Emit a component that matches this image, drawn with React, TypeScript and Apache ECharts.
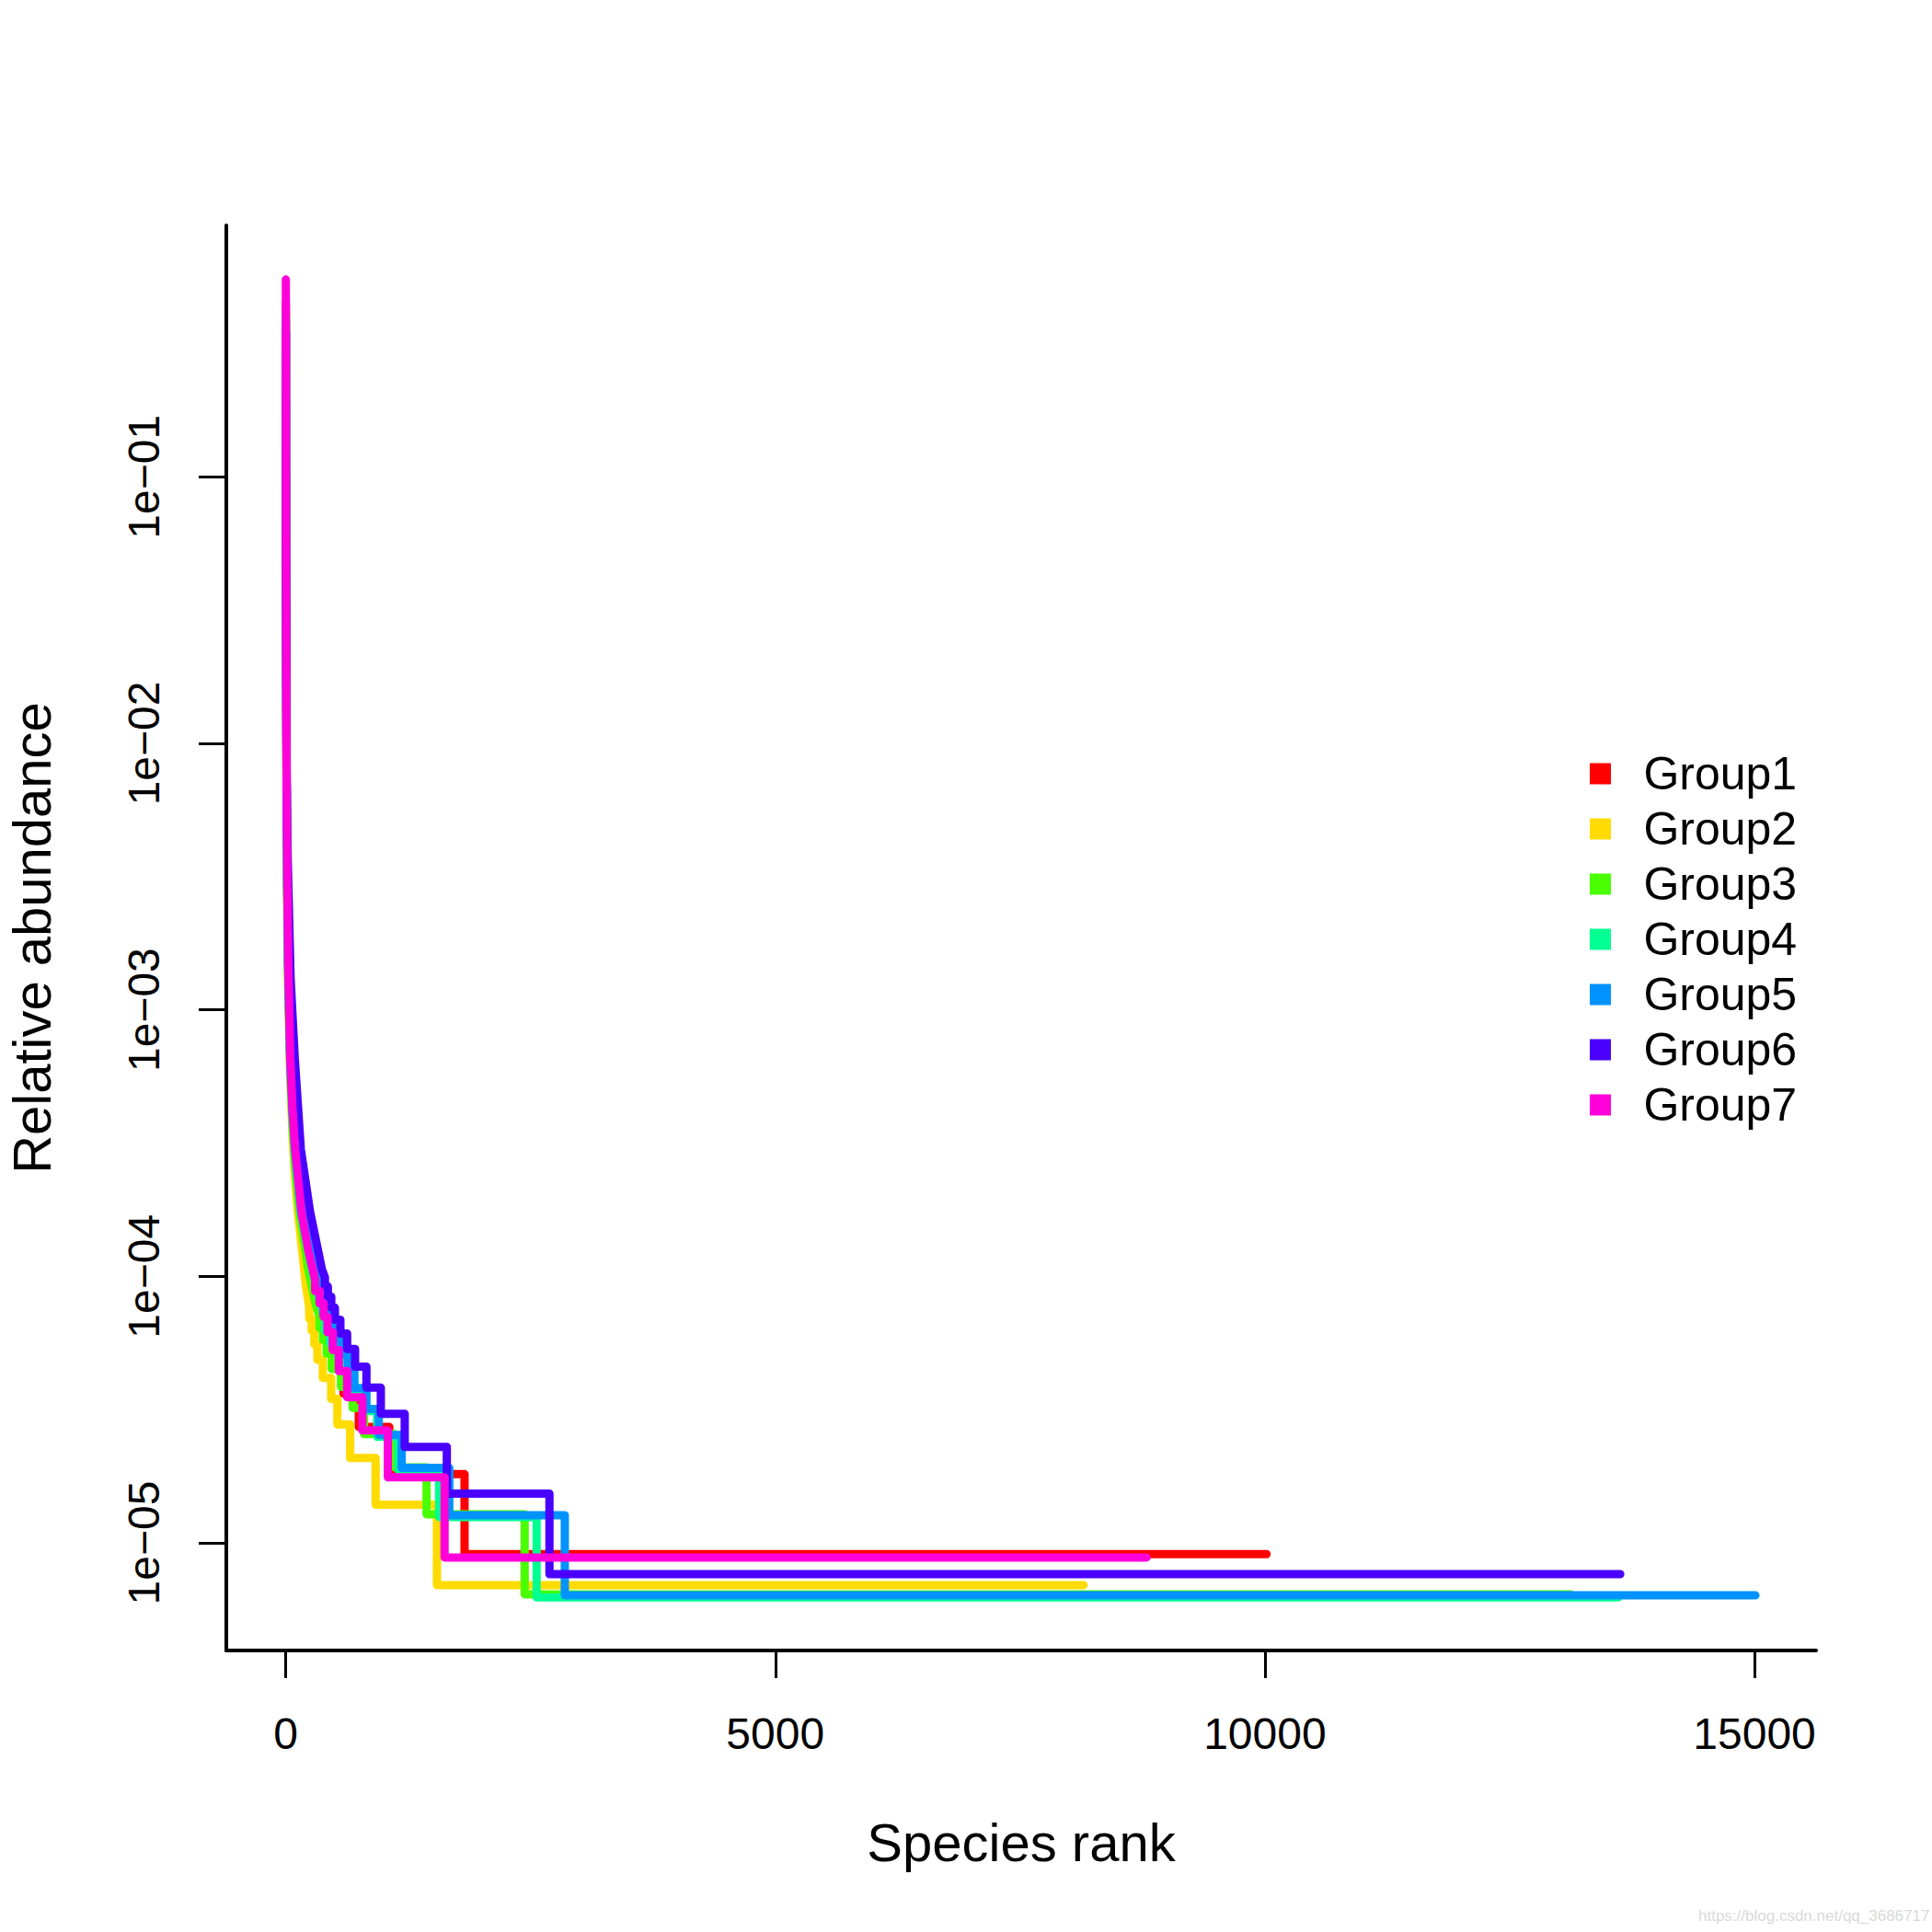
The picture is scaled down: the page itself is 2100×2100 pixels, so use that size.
import React, { useEffect, useRef } from "react";
import * as echarts from "echarts";

// ---------- data ----------
const groupNames = ["Group1", "Group2", "Group3", "Group4", "Group5", "Group6", "Group7"];
const groupColors = ["#FF0000", "#FFDB00", "#49FF00", "#00FF92", "#0092FF", "#4900FF", "#FF00DB"];

const xTicks = [0, 5000, 10000, 15000];
const yTickExps = [-5, -4, -3, -2, -1];
const yTickLabels = ["1e\u221205", "1e\u221204", "1e\u221203", "1e\u221202", "1e\u221201"];

// head of each rank-abundance curve: [rank, relative abundance]
const g1Head: [number, number][] = [
  [1, 0.45], [2, 0.1], [3, 0.045], [5, 0.018], [8, 8e-3], [15, 3.1e-3], [25, 1.4e-3],
  [46, 6.4e-4], [70, 4e-4], [96, 2.9e-4], [155, 1.75e-4], [220, 1.3e-4], [295, 1.0e-4],
];
const g2Head: [number, number][] = [
  [1, 0.4], [2, 0.09], [3, 0.04], [5, 0.016], [8, 7e-3], [15, 2.6e-3], [25, 1.2e-3],
  [46, 5.5e-4], [70, 3.3e-4], [96, 2.3e-4], [123, 1.75e-4], [189, 1.06e-4], [204, 9.3e-5], [240, 7.6e-5],
];
const g3Head: [number, number][] = [
  [1, 0.42], [2, 0.09], [3, 0.042], [5, 0.017], [8, 7.5e-3], [15, 2.8e-3], [25, 1.3e-3],
  [46, 6e-4], [70, 3.7e-4], [96, 2.6e-4], [140, 1.75e-4], [229, 1.06e-4], [300, 8e-5], [345, 7.05e-5],
];
const g4Head: [number, number][] = [
  [1, 0.4], [2, 0.1], [3, 0.045], [5, 0.018], [8, 8e-3], [15, 2.9e-3], [25, 1.4e-3],
  [46, 6.2e-4], [70, 3.9e-4], [96, 2.8e-4], [150, 1.75e-4], [270, 1.06e-4], [330, 8.5e-5], [400, 6.86e-5],
];
const g5Head: [number, number][] = [
  [1, 0.38], [2, 0.1], [3, 0.045], [5, 0.019], [8, 8.5e-3], [15, 3e-3], [25, 1.45e-3],
  [46, 6.4e-4], [70, 4.1e-4], [96, 2.95e-4], [165, 1.75e-4], [323, 1.06e-4], [345, 9.3e-5],
  [420, 7.6e-5], [470, 6.99e-5],
];
const g6Head: [number, number][] = [
  [1, 0.35], [2, 0.1], [3, 0.05], [5, 0.022], [8, 0.01], [15, 4.5e-3], [24, 3.2e-3],
  [50, 1.3e-3], [92, 6.6e-4], [154, 3e-4], [248, 1.75e-4], [370, 1.06e-4], [400, 9.92e-5],
];
const g7Head: [number, number][] = [
  [1, 0.55], [2, 0.12], [3, 0.05], [5, 0.02], [8, 8.5e-3], [15, 3.2e-3], [25, 1.5e-3],
  [46, 6.6e-4], [70, 4.2e-4], [96, 3e-4], [159, 1.75e-4], [230, 1.25e-4], [300, 9.7e-5],
];

// plateaus (relative abundance) and the last rank of each plateau
const g1Levels = [9.07e-5, 8.16e-5, 7.26e-5, 6.35e-5, 5.44e-5, 4.54e-5, 3.63e-5, 2.72e-5, 1.81e-5, 9.07e-6];
const g1LevelEnds = [330, 365, 410, 455, 515, 589, 746, 1058, 1826, 10017];
const g2Levels = [6.94e-5, 6.25e-5, 5.55e-5, 4.86e-5, 4.16e-5, 3.47e-5, 2.78e-5, 2.08e-5, 1.39e-5, 6.94e-6];
const g2LevelEnds = [265, 292, 323, 379, 464, 527, 658, 918, 1544, 8148];
const g3Levels = [6.41e-5, 5.77e-5, 5.13e-5, 4.49e-5, 3.85e-5, 3.21e-5, 2.56e-5, 1.92e-5, 1.28e-5, 6.41e-6];
const g3LevelEnds = [380, 417, 470, 564, 683, 800, 1110, 1438, 2440, 13122];
const g4Levels = [6.24e-5, 5.62e-5, 4.99e-5, 4.37e-5, 3.74e-5, 3.12e-5, 2.5e-5, 1.87e-5, 1.25e-5, 6.24e-6];
const g4LevelEnds = [450, 530, 610, 700, 810, 934, 1153, 1566, 2562, 13610];
const g5Levels = [6.35e-5, 5.72e-5, 5.08e-5, 4.45e-5, 3.81e-5, 3.18e-5, 2.54e-5, 1.91e-5, 1.27e-5, 6.35e-6];
const g5LevelEnds = [520, 574, 636, 699, 824, 950, 1184, 1670, 2850, 15010];
const g6Levels = [9.16e-5, 8.39e-5, 7.63e-5, 6.87e-5, 6.1e-5, 5.34e-5, 4.58e-5, 3.82e-5, 3.05e-5, 2.29e-5, 1.53e-5, 7.63e-6];
const g6LevelEnds = [430, 465, 502, 558, 627, 708, 824, 971, 1215, 1645, 2693, 13629];
const g7Levels = [8.81e-5, 7.93e-5, 7.05e-5, 6.17e-5, 5.29e-5, 4.41e-5, 3.52e-5, 2.64e-5, 1.76e-5, 8.81e-6];
const g7LevelEnds = [345, 386, 426, 480, 542, 627, 783, 1043, 1622, 8791];

const heads = [g1Head, g2Head, g3Head, g4Head, g5Head, g6Head, g7Head];
const levels = [g1Levels, g2Levels, g3Levels, g4Levels, g5Levels, g6Levels, g7Levels];
const levelEnds = [g1LevelEnds, g2LevelEnds, g3LevelEnds, g4LevelEnds, g5LevelEnds, g6LevelEnds, g7LevelEnds];

// axis ranges (R's 4% extension)
const xMin = -607;
const xMax = 15629;
const yMinLog = -5.404;
const yMaxLog = -0.0566;

function buildCurve(head: [number, number][], lv: number[], ends: number[]) {
  const pts: number[][] = head.map(([r, v]) => [r, Math.log10(v)]);
  let start = head[head.length - 1][0];
  lv.forEach((v, i) => {
    pts.push([start, Math.log10(v)]);
    pts.push([ends[i], Math.log10(v)]);
    start = ends[i];
  });
  return pts;
}

const FONT = "'Liberation Sans', Arial, Helvetica, sans-serif";

export default function App() {
  const ref = useRef<HTMLDivElement>(null);
  useEffect(() => {
    if (!ref.current) return;
    const chart = echarts.init(ref.current, undefined, { renderer: "svg" });
    const series = groupNames.map((name, i) => ({
      name,
      type: "line",
      data: buildCurve(heads[i], levels[i], levelEnds[i]),
      showSymbol: false,
      symbol: "none",
      clip: true,
      itemStyle: { color: groupColors[i] },
      lineStyle: { color: groupColors[i], width: 9, cap: "round", join: "round" },
      emphasis: { disabled: true },
    }));
    chart.setOption({
      animation: false,
      backgroundColor: "#ffffff",
      grid: { left: 246, top: 245, width: 1728, height: 1549, outerBoundsMode: "none", containLabel: false },
      xAxis: {
        type: "value",
        min: xMin,
        max: xMax,
        name: "Species rank",
        nameLocation: "middle",
        nameGap: 179,
        nameTextStyle: { fontSize: 58, fontFamily: FONT, color: "#000" },
        axisLine: { show: true, onZero: false, lineStyle: { color: "#000", width: 4 } },
        axisTick: { show: true, inside: false, length: 30, customValues: xTicks, lineStyle: { color: "#000", width: 3 } },
        axisLabel: {
          show: true,
          customValues: xTicks,
          margin: 66,
          fontSize: 48,
          fontFamily: FONT,
          color: "#000",
          formatter: (v: number) => String(v),
        },
        splitLine: { show: false },
      },
      yAxis: {
        type: "value",
        min: yMinLog,
        max: yMaxLog,
        name: "Relative abundance",
        nameLocation: "middle",
        nameGap: 183,
        nameRotate: 90,
        nameTextStyle: { fontSize: 58, fontFamily: FONT, color: "#000" },
        axisLine: { show: true, onZero: false, lineStyle: { color: "#000", width: 4 } },
        axisTick: { show: true, inside: false, length: 30, customValues: yTickExps, lineStyle: { color: "#000", width: 3 } },
        axisLabel: {
          show: true,
          customValues: yTickExps,
          rotate: 90,
          margin: 66,
          fontSize: 48,
          fontFamily: FONT,
          color: "#000",
          formatter: (v: number) => {
            const idx = yTickExps.indexOf(Math.round(v));
            return idx >= 0 ? yTickLabels[idx] : "";
          },
        },
        splitLine: { show: false },
      },
      legend: {
        show: true,
        orient: "vertical",
        left: 1723,
        top: 811,
        itemWidth: 53.4,
        itemHeight: 23,
        itemGap: 10,
        icon: "path://M0 0H23V23H0Z M53.3 0L53.4 0L53.4 0.1Z",
        itemStyle: { borderWidth: 0 },
        selectedMode: false,
        textStyle: { fontSize: 50, fontFamily: FONT, color: "#000" },
        data: groupNames,
      },
      graphic: [
        {
          type: "text",
          x: 1846,
          y: 2074,
          style: { text: "https://blog.csdn.net/qq_3686717", fill: "#d9d9d9", font: `17px ${FONT}` },
          silent: true,
        },
      ],
      series,
    });
    return () => chart.dispose();
  }, []);
  return (
    <div
      ref={ref}
      style={{ position: "absolute", left: 0, top: 0, width: 2100, height: 2100, background: "#fff" }}
    />
  );
}
